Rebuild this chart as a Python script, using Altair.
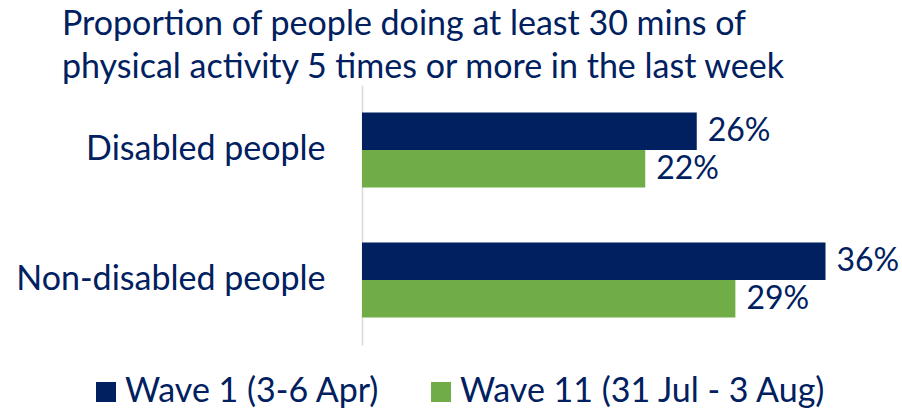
import altair as alt
import pandas as pd

categories = ["Disabled people", "Non-disabled people"]
waves = ["Wave 1 (3-6 Apr)", "Wave 11 (31 Jul - 3 Aug)"]
wave1_values = [26, 36]
wave11_values = [22, 29]

rows = []
for i, c in enumerate(categories):
    rows.append({"category": c, "wave": waves[0], "value": wave1_values[i]})
    rows.append({"category": c, "wave": waves[1], "value": wave11_values[i]})
df = pd.DataFrame(rows)

NAVY = "#002060"
GREEN = "#70AD47"
FONT = "Lato"

color = alt.Color(
    "wave:N",
    scale=alt.Scale(domain=waves, range=[NAVY, GREEN]),
    sort=waves,
    legend=alt.Legend(
        title=None,
        orient="none",
        direction="horizontal",
        legendX=-273,
        legendY=290,
        symbolType="square",
        symbolSize=400,
        symbolStrokeWidth=0,
        symbolOpacity=1,
        labelFontSize=34,
        labelFont=FONT,
        labelColor=NAVY,
        labelOffset=2,
        columnPadding=44,
        labelLimit=500,
    ),
)

y = alt.Y(
    "category:N",
    sort=categories,
    scale=alt.Scale(paddingInner=0.423, paddingOuter=0.2115),
    axis=alt.Axis(
        title=None,
        ticks=False,
        domainColor="#d9d9d9",
        domainWidth=1.5,
        labelFontSize=34,
        labelFont=FONT,
        labelColor=NAVY,
        labelPadding=37,
        labelLimit=400,
    ),
)
x = alt.X("value:Q", scale=alt.Scale(domain=[0, 40]), axis=None)
yoff = alt.YOffset("wave:N", sort=waves, scale=alt.Scale(paddingInner=0, paddingOuter=0))

bars = alt.Chart(df).mark_bar(size=37.5).encode(y=y, x=x, yOffset=yoff, color=color)

labels = (
    alt.Chart(df)
    .transform_calculate(label="datum.value + '%'")
    .mark_text(align="left", baseline="middle", dx=11, fontSize=32, font=FONT, color=NAVY)
    .encode(y=y, x=x, yOffset=yoff, text="label:N")
)

chart = (
    alt.layer(bars, labels)
    .properties(
        width=515,
        height=260,
        autosize=alt.AutoSizeParams(type="none"),
        padding={"left": 362, "top": 85, "right": 25, "bottom": 63},
        title=alt.TitleParams(
            text=[
                "Proportion of people doing at least 30 mins of",
                "physical activity 5 times or more in the last week",
            ],
            anchor="start",
            frame="group",
            dx=-300,
            dy=8,
            fontSize=34,
            font=FONT,
            fontWeight="normal",
            color=NAVY,
            lineHeight=43,
            offset=8,
        ),
    )
    .configure_view(stroke=None)
)

chart.save("out.html", embed_options={"renderer": "svg", "actions": False})
